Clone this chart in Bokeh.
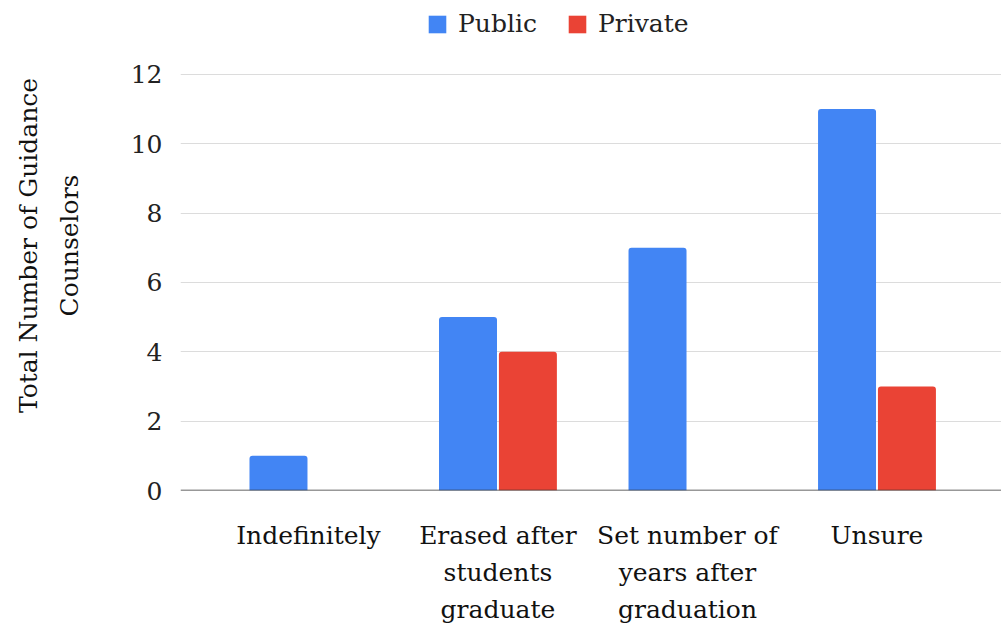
from bokeh.plotting import figure
from bokeh.models import Range1d, FixedTicker, Span, Legend, LegendItem, ColumnDataSource
from bokeh.embed import file_html
from bokeh.resources import INLINE

# Retention policy categories and counselor counts
categories = ["Indefinitely", "Erased after\nstudents\ngraduate",
              "Set number of\nyears after\ngraduation", "Unsure"]
public_counts = [1, 5, 7, 11]
private_counts = [0, 4, 0, 3]
y_ticks = [0, 2, 4, 6, 8, 10, 12]

BLUE = "#4285F4"
RED = "#EA4335"
SERIF = "DejaVu Serif"
FS = "25px"

positions = list(range(len(categories)))
src = ColumnDataSource(dict(
    x_pub=[i - 0.158 for i in positions],
    x_priv=[i + 0.158 for i in positions],
    public=public_counts,
    private=private_counts,
))

# frame spans the full height above the baseline; the legend sits in its upper strip
p = figure(width=1001, height=630, output_backend="svg", toolbar_location=None,
           x_range=Range1d(-0.675, 3.657), y_range=Range1d(0, 14.13))
p.min_border_left = 180
p.min_border_right = 0
p.min_border_top = 0
p.min_border_bottom = 140
p.outline_line_color = None

bw = 0.306
r_pub = p.vbar(x="x_pub", top="public", width=bw, source=src, fill_color=BLUE,
               line_color=None, border_radius=(3, 3, 0, 0))
r_priv = p.vbar(x="x_priv", top="private", width=bw, source=src, fill_color=RED,
                line_color=None, border_radius=(3, 3, 0, 0))

# baseline
p.add_layout(Span(location=0, dimension="width", line_color="#333333", line_width=1.5))

# x axis
p.xaxis.ticker = FixedTicker(ticks=positions)
p.xaxis.major_label_overrides = {i: c for i, c in zip(positions, categories)}
p.xaxis.axis_line_color = None
p.xaxis.major_tick_line_color = None
p.xaxis.minor_tick_line_color = None
p.xaxis.major_label_text_font = SERIF
p.xaxis.major_label_text_font_size = FS
p.xaxis.major_label_text_line_height = 1.28
p.xaxis.major_label_text_color = "#111111"
p.xaxis.major_label_standoff = 24
p.xgrid.grid_line_color = None

# y axis
p.yaxis.ticker = FixedTicker(ticks=y_ticks)
p.yaxis.axis_line_color = None
p.yaxis.major_tick_line_color = None
p.yaxis.minor_tick_line_color = None
p.yaxis.major_label_text_font = SERIF
p.yaxis.major_label_text_font_size = FS
p.yaxis.major_label_text_color = "#222222"
p.yaxis.major_label_standoff = 12
p.yaxis.axis_label = "Total Number of Guidance\nCounselors"
p.yaxis.axis_label_text_font = SERIF
p.yaxis.axis_label_text_font_size = FS
p.yaxis.axis_label_text_line_height = 1.4
p.yaxis.axis_label_text_font_style = "normal"
p.yaxis.axis_label_text_color = "#111111"
p.yaxis.axis_label_standoff = 44
p.ygrid.grid_line_color = "#dcdcdc"
p.ygrid.grid_line_width = 1

legend = Legend(items=[LegendItem(label="Public", renderers=[r_pub]),
                       LegendItem(label="Private", renderers=[r_priv])],
                location=(246, 452), orientation="horizontal")
legend.label_text_font = SERIF
legend.label_text_font_size = FS
legend.label_text_color = "#222222"
legend.glyph_width = 22
legend.glyph_height = 22
legend.label_standoff = 10
legend.spacing = 29
legend.padding = 0
legend.margin = 0
legend.border_line_color = None
legend.background_fill_alpha = 0
p.add_layout(legend)

open("out.html", "w").write(file_html(p, INLINE))
